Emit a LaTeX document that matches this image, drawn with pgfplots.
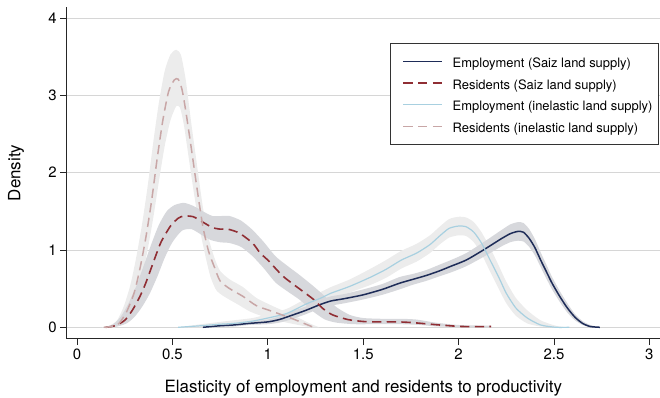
\documentclass[border=0pt]{standalone}
\usepackage{fontspec}
\setmainfont{TeX Gyre Heros}
\usepackage{pgfplots}
\pgfplotsset{compat=1.18}
\usepackage{pgfplotstable}
\usepgfplotslibrary{fillbetween}

\definecolor{saizemp}{RGB}{30,44,88}
\definecolor{saizres}{RGB}{144,46,52}
\definecolor{inelemp}{RGB}{168,208,224}
\definecolor{inelres}{RGB}{200,166,166}
\definecolor{bandsaiz}{RGB}{215,216,220}
\definecolor{bandinel}{RGB}{236,236,236}
\definecolor{gridgray}{RGB}{214,214,214}

% Employment, Saiz land supply: density with 95% band
\pgfplotstableread{
x     y     lo    hi
0.66  0.00  0.00  0.00
0.75  0.02  0.01  0.03
0.82  0.03  0.01  0.05
0.90  0.05  0.03  0.07
1.00  0.07  0.04  0.10
1.06  0.10  0.06  0.14
1.12  0.15  0.10  0.20
1.20  0.22  0.17  0.27
1.27  0.29  0.24  0.35
1.33  0.34  0.28  0.40
1.40  0.37  0.31  0.43
1.50  0.42  0.36  0.49
1.60  0.49  0.42  0.56
1.69  0.57  0.49  0.65
1.76  0.62  0.55  0.69
1.83  0.67  0.60  0.74
1.90  0.73  0.66  0.81
1.96  0.79  0.71  0.87
2.04  0.87  0.79  0.96
2.13  1.00  0.91  1.10
2.22  1.14  1.04  1.25
2.27  1.21  1.10  1.33
2.31  1.24  1.12  1.36
2.34  1.23  1.11  1.35
2.37  1.15  1.04  1.27
2.40  1.03  0.93  1.14
2.43  0.87  0.78  0.97
2.46  0.72  0.63  0.81
2.49  0.57  0.49  0.65
2.53  0.40  0.33  0.47
2.57  0.25  0.19  0.31
2.61  0.13  0.09  0.17
2.65  0.05  0.03  0.08
2.69  0.01  0.00  0.03
2.74  0.00  0.00  0.00
}\empsaiz

% Employment, inelastic land supply
\pgfplotstableread{
x     y     lo    hi
0.53  0.00  0.00  0.00
0.65  0.02  0.00  0.04
0.75  0.04  0.01  0.07
0.82  0.05  0.02  0.09
0.92  0.08  0.04  0.12
1.00  0.12  0.07  0.17
1.10  0.18  0.12  0.24
1.20  0.30  0.23  0.37
1.28  0.38  0.31  0.46
1.33  0.44  0.36  0.52
1.43  0.53  0.45  0.62
1.54  0.65  0.55  0.76
1.62  0.75  0.64  0.87
1.70  0.87  0.76  0.99
1.78  0.96  0.85  1.08
1.85  1.07  0.96  1.19
1.90  1.18  1.07  1.30
1.95  1.28  1.16  1.40
2.00  1.31  1.19  1.43
2.04  1.30  1.18  1.42
2.08  1.23  1.10  1.36
2.12  1.09  0.95  1.23
2.165 0.87  0.72  1.03
2.21  0.65  0.50  0.80
2.25  0.44  0.31  0.59
2.30  0.25  0.15  0.38
2.36  0.12  0.05  0.22
2.43  0.03  0.01  0.09
2.51  0.00  0.00  0.02
2.58  0.00  0.00  0.00
}\empinel

% Residents, Saiz land supply
\pgfplotstableread{
x     y
0.15  0.00
0.20  0.02
0.25  0.09
0.29  0.22
0.33  0.40
0.36  0.57
0.40  0.84
0.44  1.10
0.49  1.31
0.53  1.41
0.56  1.44
0.61  1.43
0.66  1.36
0.71  1.29
0.75  1.27
0.79  1.27
0.85  1.22
0.92  1.09
0.96  0.96
1.00  0.87
1.08  0.66
1.17  0.49
1.24  0.36
1.29  0.24
1.34  0.16
1.42  0.10
1.50  0.075
1.58  0.07
1.68  0.07
1.76  0.06
1.90  0.03
2.02  0.01
2.17  0.01
}\ressaiz
\pgfplotstableread{
x     y
0.14  0.00
0.19  0.04
0.23  0.14
0.27  0.31
0.31  0.53
0.35  0.80
0.39  1.08
0.43  1.33
0.47  1.50
0.51  1.58
0.56  1.61
0.61  1.57
0.66  1.50
0.71  1.44
0.76  1.44
0.80  1.44
0.86  1.38
0.92  1.26
0.98  1.10
1.04  0.92
1.10  0.80
1.17  0.67
1.24  0.53
1.30  0.40
1.36  0.26
1.43  0.16
1.50  0.12
1.60  0.11
1.70  0.11
1.78  0.10
1.88  0.06
2.00  0.03
2.17  0.02
}\ressaizhi
\pgfplotstableread{
x     y
0.16  0.00
0.21  0.01
0.26  0.05
0.30  0.13
0.34  0.26
0.38  0.43
0.42  0.65
0.46  0.90
0.50  1.10
0.55  1.25
0.60  1.27
0.65  1.20
0.70  1.13
0.75  1.10
0.80  1.09
0.86  1.04
0.92  0.92
0.98  0.76
1.04  0.58
1.10  0.47
1.17  0.35
1.24  0.20
1.30  0.10
1.36  0.06
1.45  0.04
1.55  0.04
1.70  0.04
1.80  0.03
1.90  0.01
2.17  0.00
}\ressaizlo

% Residents, inelastic land supply
\pgfplotstableread{
x     y
0.14  0.00
0.18  0.01
0.22  0.05
0.26  0.20
0.30  0.45
0.33  0.76
0.36  1.15
0.39  1.62
0.42  2.18
0.45  2.68
0.48  3.05
0.51  3.20
0.53  3.21
0.55  3.08
0.57  2.80
0.60  2.30
0.63  1.78
0.66  1.30
0.69  0.98
0.72  0.78
0.75  0.60
0.80  0.50
0.87  0.40
0.94  0.28
1.03  0.20
1.13  0.11
1.20  0.04
1.24  0.00
}\resinel
\pgfplotstableread{
x     y
0.13  0.00
0.17  0.02
0.21  0.09
0.245 0.27
0.28  0.55
0.31  0.90
0.34  1.32
0.37  1.82
0.40  2.40
0.43  2.92
0.46  3.32
0.49  3.53
0.52  3.59
0.545 3.52
0.57  3.20
0.60  2.62
0.63  2.08
0.66  1.55
0.69  1.15
0.72  0.90
0.75  0.73
0.80  0.62
0.87  0.52
0.94  0.38
1.03  0.27
1.13  0.16
1.22  0.05
1.27  0.00
}\resinelhi
\pgfplotstableread{
x     y
0.15  0.00
0.19  0.00
0.23  0.03
0.27  0.13
0.31  0.36
0.34  0.65
0.37  1.00
0.40  1.42
0.43  1.90
0.46  2.35
0.49  2.68
0.52  2.86
0.54  2.84
0.56  2.62
0.585 2.20
0.615 1.70
0.645 1.25
0.675 0.90
0.70  0.65
0.73  0.48
0.77  0.40
0.84  0.30
0.91  0.20
1.00  0.12
1.10  0.06
1.18  0.02
1.22  0.00
}\resinello

\begin{document}
\begin{tikzpicture}
\begin{axis}[
  at={(0,0)}, anchor=south west,
  scale only axis, width=593.3bp, height=331.7bp,
  xmin=-0.054, xmax=3.0556, ymin=-0.1475, ymax=4.1436,
  axis lines=left,
  axis line style={-, line width=0.9bp, black!85},
  xtick={0,0.5,1,1.5,2,2.5,3},
  ytick={0,1,2,3,4},
  tick align=outside,
  major tick length=6.5bp,
  tick style={line width=0.9bp, black!85},
  ymajorgrids,
  major grid style={gridgray, line width=0.8bp},
  ticklabel style={font=\fontsize{15}{18}\selectfont},
  /pgf/number format/assume math mode=true,
  xlabel={Elasticity of employment and residents to productivity},
  ylabel={Density},
  every axis x label/.style={at={(axis description cs:0.5,-0.1637)}, anchor=base, font=\fontsize{17}{20}\selectfont},
  every axis y label/.style={at={(axis description cs:-0.0779,0.5)}, rotate=90, anchor=base, font=\fontsize{17}{20}\selectfont},
  legend cell align=left,
  legend style={at={(0.5449,0.8915)}, anchor=north west, draw=black!80, line width=0.8bp,
    fill=white, font=\fontsize{13}{15}\selectfont,
    inner xsep=5.7bp, inner ysep=8bp, row sep=1.7bp, column sep=9.7bp,
    nodes={inner sep=0pt, text height=16bp, text depth=4bp}},
  legend image code/.code={\path (0bp,0bp); \draw[#1] (6.6bp,0bp) -- (45.3bp,0bp);},
]
% confidence bands, inelastic land supply
\addplot[draw=none, smooth, tension=0.4, name path=eih, forget plot] table[x=x,y=hi]{\empinel};
\addplot[draw=none, smooth, tension=0.4, name path=eil, forget plot] table[x=x,y=lo]{\empinel};
\addplot[bandinel, forget plot] fill between[of=eih and eil];
\addplot[draw=none, smooth, tension=0.4, name path=rih, forget plot] table[x=x,y=y]{\resinelhi};
\addplot[draw=none, smooth, tension=0.4, name path=ril, forget plot] table[x=x,y=y]{\resinello};
\addplot[bandinel, forget plot] fill between[of=rih and ril];
% confidence bands, Saiz land supply
\addplot[draw=none, smooth, tension=0.4, name path=esh, forget plot] table[x=x,y=hi]{\empsaiz};
\addplot[draw=none, smooth, tension=0.4, name path=esl, forget plot] table[x=x,y=lo]{\empsaiz};
\addplot[bandsaiz, forget plot] fill between[of=esh and esl];
\addplot[draw=none, smooth, tension=0.4, name path=rsh, forget plot] table[x=x,y=y]{\ressaizhi};
\addplot[draw=none, smooth, tension=0.4, name path=rsl, forget plot] table[x=x,y=y]{\ressaizlo};
\addplot[bandsaiz, forget plot] fill between[of=rsh and rsl];
% density curves
\addplot[saizemp, line width=1.5bp, smooth, tension=0.4] table[x=x,y=y]{\empsaiz};
\addlegendentry{Employment (Saiz land supply)}
\addplot[saizres, line width=1.6bp, dash pattern=on 9.3bp off 5.4bp, smooth, tension=0.4] table[x=x,y=y]{\ressaiz};
\addlegendentry{Residents (Saiz land supply)}
\addplot[inelemp, line width=1.2bp, smooth, tension=0.4] table[x=x,y=y]{\empinel};
\addlegendentry{Employment (inelastic land supply)}
\addplot[inelres, line width=1.5bp, dash pattern=on 9.3bp off 5.4bp, smooth, tension=0.4] table[x=x,y=y]{\resinel};
\addlegendentry{Residents (inelastic land supply)}
\end{axis}
% page frame
\pgfresetboundingbox
\path (-66.7bp,-59.3bp) rectangle (593.3bp,338.7bp);
\end{tikzpicture}
\end{document}
